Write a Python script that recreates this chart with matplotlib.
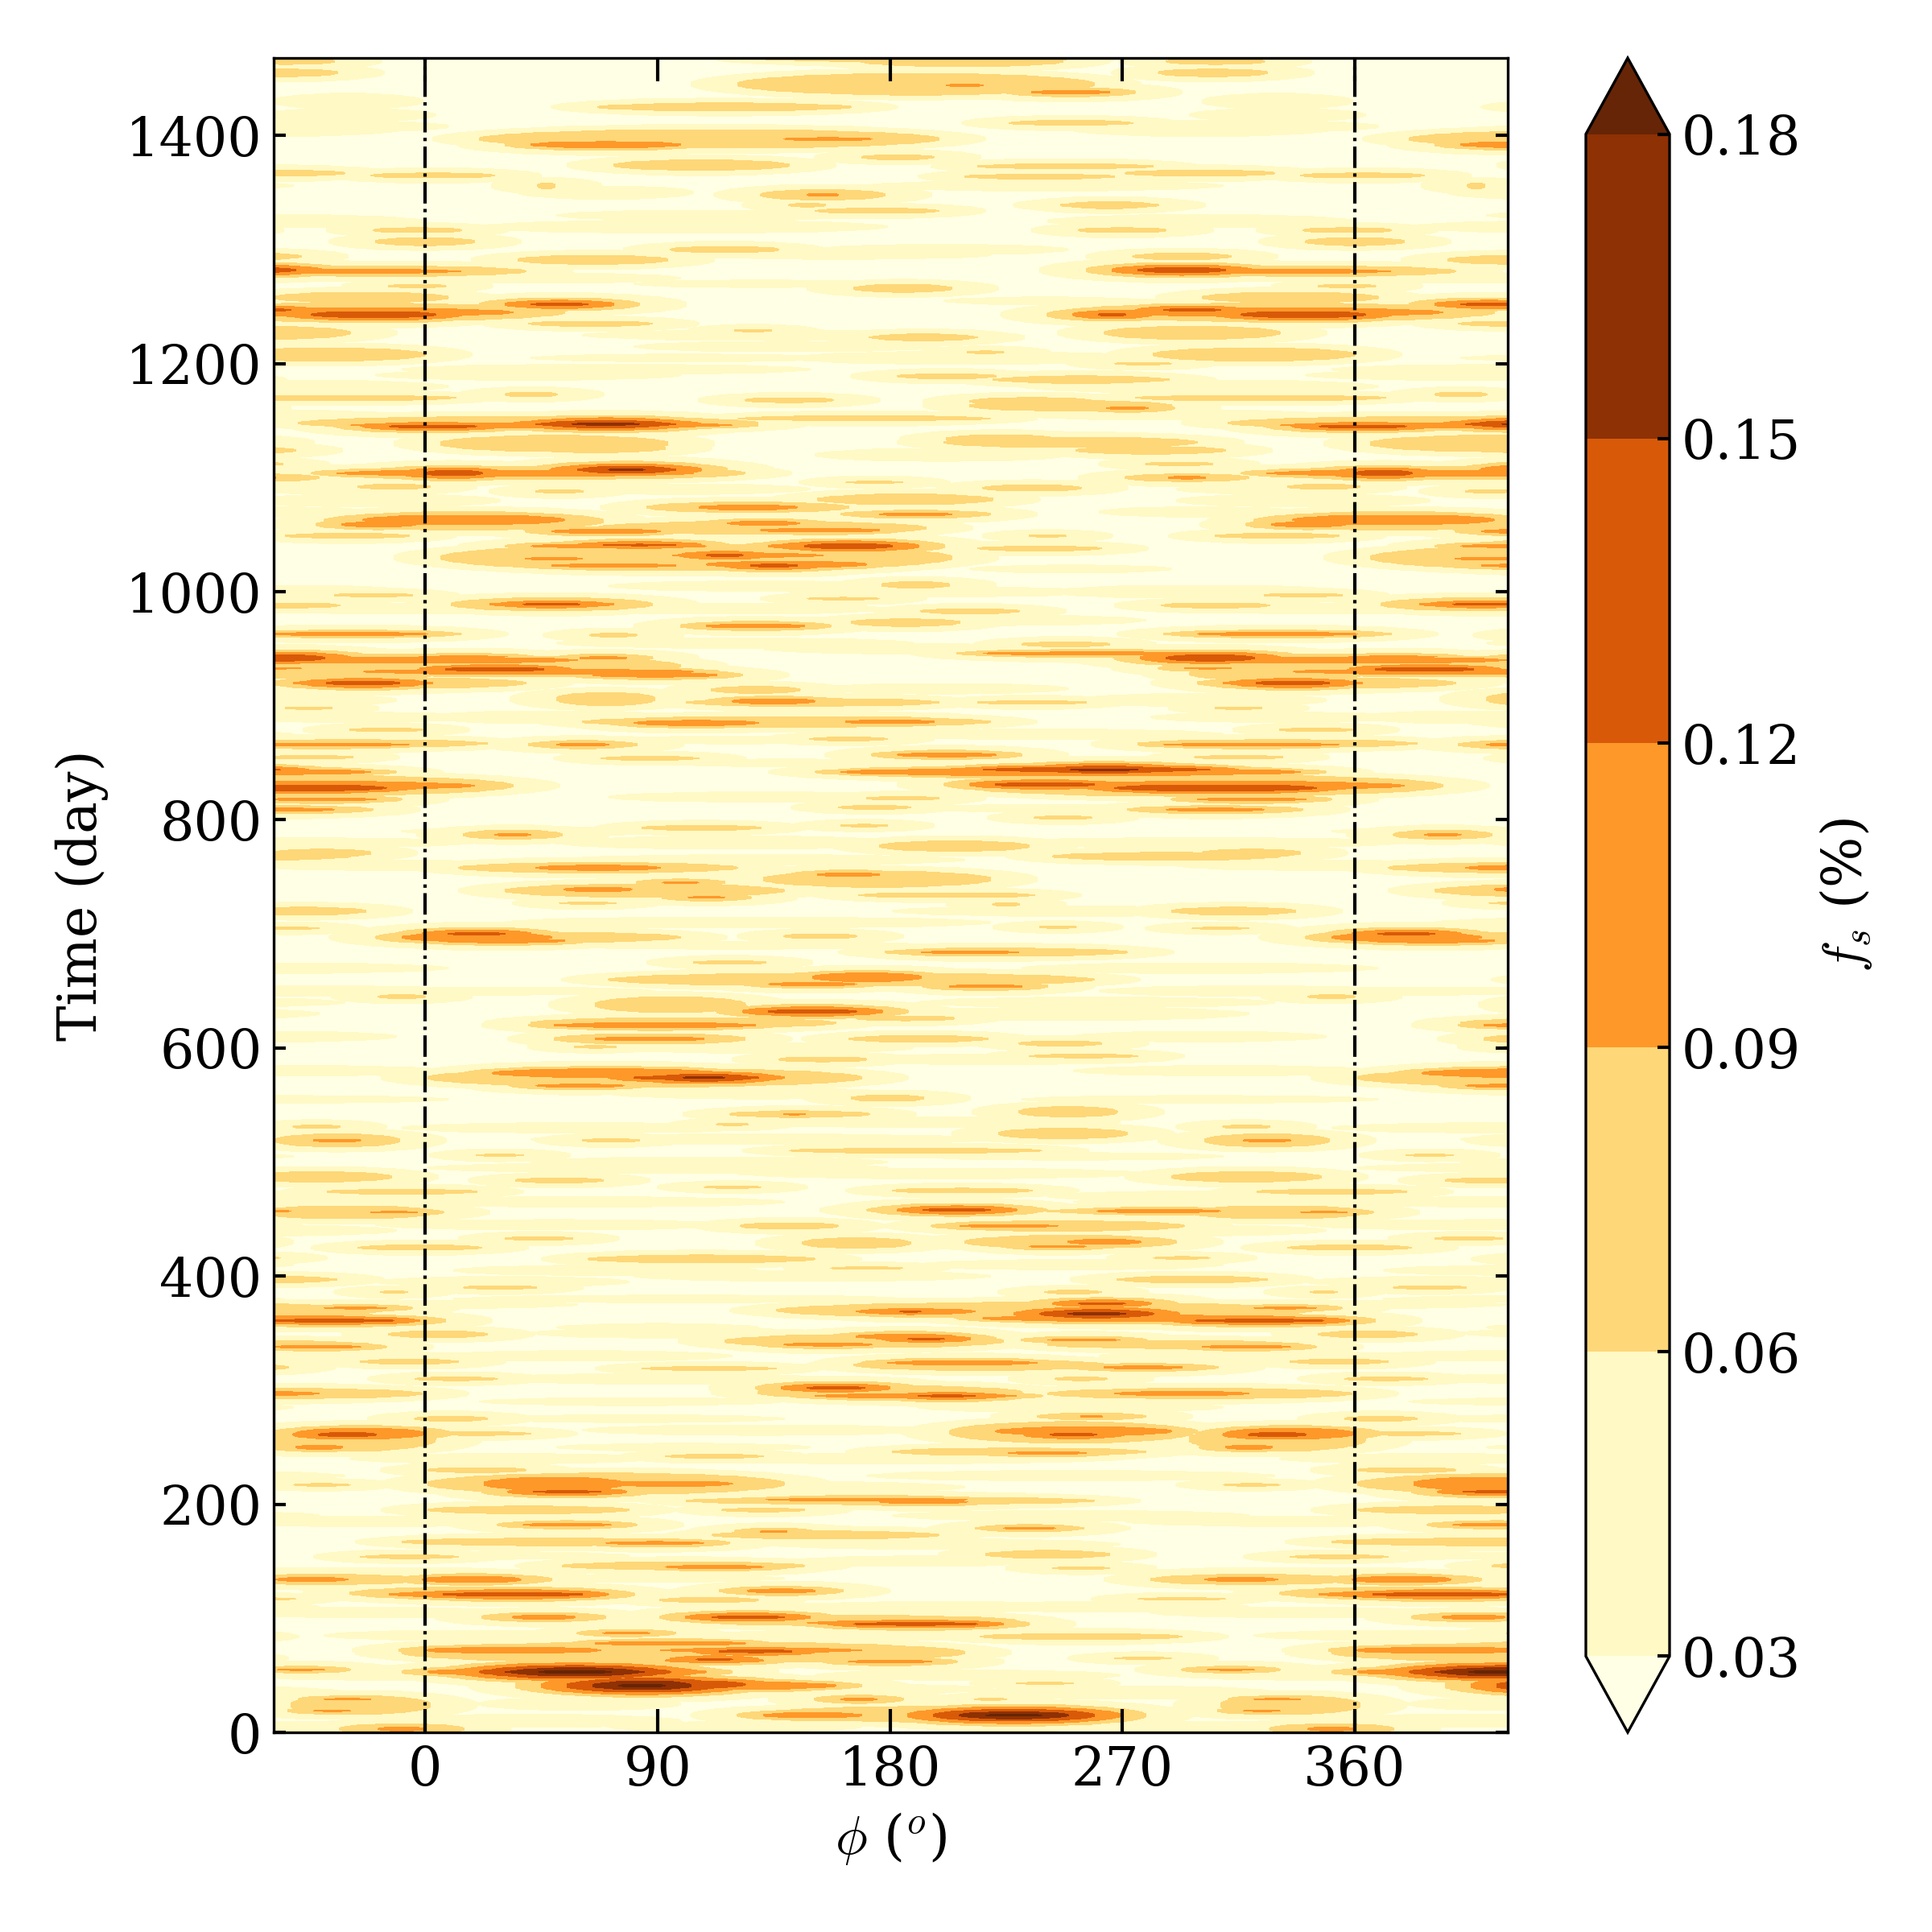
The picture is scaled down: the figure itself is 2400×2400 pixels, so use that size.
import numpy as np
import matplotlib
matplotlib.use("Agg")
import matplotlib.pyplot as plt

plt.rcParams['font.family'] = 'DejaVu Serif'
plt.rcParams['mathtext.fontset'] = 'cm'

# Features: (time, phi, half-width in phi, half-height in time, peak value)
features_upper = [
(1465,208,30,2.5,.09),(1465,306,20,2.5,.07),(1467,190,60,2,.065),(1445,190,70,8,.075),(1438,250,16,2,.095),(1444,209,8,1.5,.095),
(1455,305,22,3,.07),(1425,116,50,3,.065),(1411,250,25,2,.065),(1392,70,30,3,.1),(1397,156,18,1.5,.095),(1397,110,90,7,.07),
(1374,107,35,4,.075),(1374,107,8,1,.09),(1381,183,15,2,.065),(1373,248,35,2,.065),(1367,300,30,2.5,.065),(1364,238,30,2,.065),
(1365,3,25,2,.065),(1348,154,25,4,.07),(1348,154,7,1.5,.095),(1356,47,4,2.5,.065),(1339,265,20,2,.07),(1339,265,7,1,.09),(1334,175,25,2,.065),
(1339,148,8,1.5,.065),(1317,270,18,2,.065),(1317,-3,18,2,.065),(1307,0,20,3,.07),(1307,0,7,.7,.09),(1300,116,22,2.5,.065),(1291,65,30,3.5,.07),
(1294,293,20,2.5,.065),(1282,293,18,2.5,.125),(1281,345,55,4,.07),(1281,325,50,2,.1),(1266,185,20,3,.065),(1268,-3,12,1.5,.065),
(1252,52,12,1.5,.13),(1252,52,25,3,.07),(1243,340,25,3,.135),(1245,330,65,4,.11),(1247,297,12,1.5,.125),(1243,266,6,1.5,.125),(1258,335,35,4,.07),
(1245,330,85,7,.07),(1235,64,25,2,.065),(1227,297,35,5,.075),(1227,297,7,1,.09),(1223,193,22,2,.07),(1223,193,10,1,.09),(1229,127,8,1,.065),
(1208,321,40,5,.075),(1206,321,4,.7,.09),(1210,217,8,1,.065),(1200,278,12,1,.065),(1186,254,35,2.5,.07),(1186,254,20,1.3,.09),(1189,202,20,2,.07),
(1167,235,25,3,.07),(1167,235,11,1,.09),(1161,272,9,1.5,.095),(1163,250,40,4,.07),(1170,309,35,2,.065),(1168,141,18,2,.065),(1173,41,11,2,.065),
(1170,333,40,2,.065),(1147,70,14,1.2,.16),(1147,70,28,2,.13),(1145,3,18,1.5,.125),(1146,45,75,2.5,.105),(1148,40,90,5,.07),(1152,170,50,2,.065),
(1132,37,11,1.5,.09),(1126,66,18,2,.09),(1130,50,45,6,.07),(1134,223,12,1.5,.09),(1131,250,50,4,.07),(1124,281,30,3,.065),
(1104,11,12,2.5,.14),(1107,78,8,1,.155),(1107,78,20,2.5,.135),(1104,35,70,3,.105),(1104,40,85,5,.07),(1112,292,14,1.5,.065),(1100,295,8,1.5,.095),
(1100,295,25,3,.07),(1092,-12,15,2,.065),(1088,52,10,1.5,.065),(1091,235,20,2.5,.065),(1096,174,12,1,.065),(1081,186,35,4,.07),
(1074,125,20,2.5,.095),(1074,125,40,4,.07),(1068,190,15,1.5,.095),(1068,190,30,3,.07),(1063,15,40,4.5,.11),(1062,15,55,7,.07),(1059,342,15,2.5,.11),
(1060,131,15,2,.095),(1054,153,24,2,.1),(1053,70,22,2,.095),(1056,130,65,5,.07),(1041,83,15,1,.125),(1040,75,35,2,.1),(1040,164,18,2.5,.13),
(1040,160,28,3,.105),(1032,116,8,1.5,.125),(1032,125,30,2,.1),(1029,50,12,1.5,.095),(1023,135,10,1.5,.125),(1024,140,32,3,.105),(1023,73,25,2,.095),
(1030,105,100,10,.07),(1038,238,25,2,.065),(1049,241,8,1,.065),(1049,330,25,2,.065),(1006,190,14,2.5,.07),(989,49,12,1,.13),(989,49,25,2.5,.105),
(989,49,40,5,.07),(997,340,16,1.5,.065),(994,162,15,1,.065),(983,211,20,2,.065),(988,306,22,2,.065),
]

features_middle = [
(970,128,20,2,.095),(970,128,30,3,.07),(973,186,22,3,.065),(963,330,32,1.5,.105),(963,330,45,3,.07),(962,73,10,1.5,.065),(954,248,18,2,.065),
(946,260,45,1.5,.1),(942,304,18,3,.14),(940,350,70,3,.105),(943,15,18,1,.095),(942,69,10,1.2,.1),(932,27,20,2,.135),(927,89,25,2,.115),
(930,40,65,2.5,.105),(935,30,70,7,.07),(933,303,10,1,.095),(928,330,35,5,.07),(920,336,15,2,.135),(920,336,28,2.5,.105),(920,350,50,4,.07),
(914,128,8,1,.09),(904,135,17,2.5,.1),(903,150,50,3,.07),(906,70,20,5,.07),(903,235,22,1.5,.065),(898,315,10,1,.065),(885,105,25,2.5,.105),
(886,180,18,2,.1),(886,140,80,4,.07),(879,345,15,1.5,.065),(871,164,16,1.5,.065),(866,61,11,1.5,.095),(866,61,22,3,.07),(866,320,35,1.5,.105),
(867,330,55,3,.07),(857,202,20,2,.1),(854,87,20,1.5,.065),(855,315,18,1.5,.065),(844,263,14,1,.16),(844,260,45,2,.135),(842,250,90,3.5,.105),
(831,240,20,2,.135),(828,306,40,3,.14),(830,310,70,4,.105),(830,300,95,8,.07),(818,320,22,1.5,.105),(809,306,20,1.5,.105),(809,306,35,3,.07),
(819,185,15,1.5,.065),(811,174,15,1.5,.065),(802,247,12,1.5,.065),(793,107,24,2,.065),(795,170,10,1,.065),(787,34,8,1.5,.095),(787,34,20,3.5,.07),
(777,205,30,4,.065),(768,287,45,3,.065),(771,320,20,3,.065),(758,67,25,2.5,.105),(758,67,55,4,.07),(752,164,13,2,.095),(748,175,45,6,.07),
(739,67,14,2,.1),(745,99,8,1,.095),(732,109,8,1,.095),(738,85,55,5,.07),(734,202,35,2,.065),(726,225,6,1.5,.065),(727,63,12,1,.065),(720,313,25,3,.065),
(706,245,8,1,.065),(705,308,12,1,.065),(700,20,12,1.5,.125),(694,30,25,2,.105),(697,20,30,4,.1),(697,40,60,4,.07),(698,153,15,2,.065),
(684,211,20,1.5,.095),(684,225,48,3,.07),(675,118,15,1.5,.065),(662,171,22,4,.105),(656,150,18,1.5,.105),(654,217,15,1.5,.095),(660,165,95,5,.07),
(645,-9,10,1.5,.065),(632,150,18,2,.135),(632,150,28,3,.105),(638,95,30,6,.07),(626,186,20,2,.065),(620,89,40,2.5,.105),(622,100,60,4,.07),
(608,87,22,2,.105),(608,87,38,4,.07),(608,191,28,2.5,.065),(604,246,17,2,.065),(593,255,22,1.5,.065),(590,154,18,2,.065),(601,66,9,1,.065),
(574,108,9,1,.165),(574,105,25,2,.135),(578,70,45,4,.105),(567,60,18,1.5,.1),(574,85,85,7,.07),(556,179,15,2.5,.065),(544,249,20,4,.065),
(542,143,5,1,.095),(542,145,28,2.5,.07),(525,247,26,4,.07),(519,326,10,1.5,.095),(519,326,25,5,.07),(519,72,12,1.5,.065),(510,190,50,2,.065),
(506,29,10,1,.065),(533,119,7,1,.065),(531,318,10,1.5,.065),(487,318,30,4,.065),
]

features_lower = [
(484,52,18,2,.065),(475,208,28,2,.065),(478,119,12,1,.065),(474,-9,30,2,.065),(456,348,10,1,.095),(456,330,35,5,.07),(458,206,14,1.5,.13),
(458,206,24,2.5,.1),(458,206,36,3.5,.07),(457,284,25,1.5,.105),(457,290,50,2.5,.07),(444,141,20,2.5,.07),(444,226,20,1.5,.105),(444,245,50,4,.07),
(430,263,15,2.5,.105),(426,245,12,1,.1),(430,250,42,5,.07),(433,44,14,1.5,.065),(425,-2,25,2,.065),(429,167,22,4,.065),(415,107,45,3,.07),
(407,171,15,1,.065),(416,293,12,1,.065),(397,297,30,2.5,.065),(390,29,15,1.5,.065),(386,251,12,1.5,.065),(386,-12,6,1,.065),
(367,260,12,1.5,.165),(367,260,23,2.5,.135),(376,262,10,1,.135),(376,262,20,1.5,.105),(369,190,24,2.5,.105),(369,188,5,.8,.125),(361,323,26,1.5,.125),
(363,280,65,3,.105),(372,333,13,1,.1),(370,240,105,6,.07),(347,186,20,2.5,.1),(345,194,8,1,.125),(340,156,18,1.5,.105),(343,170,55,5,.07),
(344,255,15,1,.095),(338,318,18,1.5,.105),(340,290,50,3,.07),(349,5,20,2.5,.07),(324,208,30,2,.105),(322,215,50,4,.07),(320,278,16,1.5,.1),
(320,278,30,3,.07),(319,110,27,1.5,.065),(325,-6,20,2,.065),(310,254,11,1.5,.065),(310,12,17,1.5,.065),(302,159,12,1.5,.14),(303,160,20,2.5,.105),
(295,202,12,1,.13),(295,190,40,2,.105),(298,180,52,5,.07),(297,293,27,2,.105),(297,300,60,4,.07),(277,258,5,1,.095),(277,258,22,2.5,.07),
(261,251,10,1.5,.125),(264,255,35,4,.105),(263,250,48,8,.07),(261,330,12,2,.135),(262,335,26,5,.11),(250,319,10,2,.1),(257,330,35,9,.075),
(262,20,22,1.5,.065),(275,10,15,2,.065),(245,241,16,1.5,.1),(246,230,50,3,.07),(242,112,20,1.5,.065),(218,50,28,6,.105),(218,95,25,2.5,.105),
(211,55,14,1.2,.13),(218,70,70,8,.075),(230,20,20,2,.065),(217,320,12,1,.065),(204,171,40,1.5,.105),(202,193,18,1.5,.105),(203,180,80,3,.07),
(195,131,17,1.5,.07),(195,40,40,3,.065),(182,55,18,1.5,.105),(182,55,28,3,.07),(176,135,6,1,.095),(173,155,45,3,.07),(179,234,11,1,.095),
(179,234,22,1.5,.07),(166,89,20,1.5,.105),(167,50,60,3,.07),(156,241,25,3,.07),(154,-6,20,1.5,.065),(145,112,20,1.5,.105),(146,100,48,3,.07),
(144,254,12,1.2,.065),(134,18,20,3,.105),(134,20,30,4,.07),(134,316,15,2,.105),(134,320,40,4,.07),(124,138,14,2,.1),(124,138,25,3,.07),
(121,34,28,2,.125),(121,25,40,3,.1),(122,25,55,5,.07),(116,110,20,2,.065),(117,293,18,1,.065),(101,46,13,2,.1),(101,46,25,3.5,.07),
(101,125,15,1.5,.125),(101,125,25,2.5,.1),(95,190,25,1.3,.13),(96,185,38,2,.105),(98,165,65,4,.07),(87,78,10,1,.1),(84,254,40,2.5,.065),
(72,34,35,3,.105),(78,95,30,2,.105),(71,128,15,1.5,.125),(72,130,40,2,.105),(64,112,8,1,.125),(63,112,20,2,.105),(62,180,17,1.5,.1),(70,100,110,8,.07),
(65,278,12,1,.065),(55,312,10,1,.095),(53,58,15,1.5,.185),(53,58,28,2,.165),(53,55,35,3,.14),(53,55,55,4,.105),(41,84,10,1.5,.185),(42,85,17,3.5,.165),
(42,90,35,4,.14),(41,105,55,4,.105),(29,168,8,1.5,.095),(29,219,7,1,.065),(43,240,12,1,.065),(15,228,12,1,.185),(15,228,24,2,.14),(16,232,32,3,.105),
(15,150,20,2.5,.105),(16,200,70,6,.07),(29,330,10,1,.095),(19,324,8,1,.095),(24,335,28,7,.065),(3,351,10,2,.1),(3,351,25,4,.07),
]

# Pale bands (0.03 - 0.06): (time, phi, half-width in phi, half-height in time, peak value)
features_pale = [
(1430,330,30,6,.04),(1408,310,60,5,.04),(1356,240,70,4,.04),(1320,100,80,5,.04),(1295,160,60,3,.04),
(1215,140,60,4,.04),(1195,70,80,4,.04),(1180,300,70,5,.04),(1090,330,40,4,.04),(1000,200,60,4,.04),(985,120,60,4,.04),
(890,330,50,4,.04),(780,120,70,5,.04),(710,100,70,4,.04),(640,260,70,4,.04),(530,60,70,4,.04),(500,110,70,4,.04),
(470,300,60,4,.04),(405,70,60,4,.04),(355,90,40,3,.04),(290,80,60,3,.04),(250,100,50,3,.04),(150,190,50,4,.04),(110,260,60,4,.04),(35,270,60,5,.04),(25,60,40,5,.04),
(1418,330,35,5,.04),(1405,300,50,5,.04),(1350,70,35,5,.04),(1330,110,60,4,.04),(1325,300,60,5,.04),(1300,200,50,4,.04),(1275,40,60,4,.04),(1270,130,50,3,.04),
(1255,240,40,3,.04),(1225,130,70,4,.04),(1205,210,70,5,.04),(1205,100,60,3,.04),(1190,40,60,4,.04),(1155,290,60,4,.04),(1120,200,50,5,.04),(1090,100,50,4,.04),
(1080,340,50,5,.04),(1070,300,40,4,.04),(1020,250,40,3,.04),(1005,130,60,4,.04),(1000,300,60,5,.04),(975,220,60,4,.04),(985,350,50,4,.04),(955,120,70,4,.04),
(950,190,60,4,.04),(915,200,50,4,.04),(905,300,50,5,.04),(890,50,50,5,.04),(875,240,70,4,.04),(870,120,50,3,.04),(850,140,50,3,.04),(820,130,60,4,.04),
(810,240,50,3,.04),(790,50,60,3,.04),(780,300,80,4,.04),(765,130,80,4,.04),(760,350,60,4,.04),(720,250,70,4,.04),(710,140,80,4,.04),(690,120,80,3,.04),
(670,300,70,4,.04),(650,30,60,3,.04),(650,320,60,4,.04),(630,250,70,5,.04),(610,300,50,4,.04),(600,130,60,4,.04),(590,220,70,4,.04),(580,310,60,4,.04),
(560,130,60,4,.04),(555,300,70,3,.04),(535,190,80,4,.04),(520,130,90,4,.04),(505,250,60,3,.04),(495,90,90,4,.04),(490,200,80,4,.04),(465,60,80,4,.04),
(465,310,60,3,.04),(445,50,70,4,.04),(440,300,50,4,.04),(410,250,60,4,.04),(400,150,70,4,.04),(395,30,50,4,.04),(380,100,90,3,.04),(375,0,60,3,.04),
(350,100,60,4,.04),(330,60,60,4,.04),(330,320,60,4,.04),(310,90,70,4,.04),(285,250,60,4,.04),(275,80,60,3,.04),(265,130,70,4,.04),(240,180,90,4,.04),
(240,30,60,4,.04),(225,250,80,4,.04),(215,150,60,4,.04),(190,250,70,4,.04),(185,340,70,4,.04),(165,200,70,4,.04),(155,20,60,3,.04),(140,340,70,4,.04),
(135,80,60,3,.04),(110,200,70,4,.04),(105,340,60,4,.04),(85,170,70,4,.04),(85,20,60,4,.04),(50,210,60,4,.04),(50,350,60,4,.04),(38,160,60,4,.04),
(10,40,60,5,.04),(5,120,50,4,.04),(5,300,60,4,.04),
]

levels = [0.03, 0.06, 0.09, 0.12, 0.15, 0.18]
phi_ticks = [0, 90, 180, 270, 360]
time_ticks = [0, 200, 400, 600, 800, 1000, 1200, 1400]
base_value = 0.024

phi_cycle = np.arange(0.0, 360.0, 1.0)
time_axis = np.arange(0.0, 1469.0, 0.5)
field = np.full((time_axis.size, phi_cycle.size), base_value)


def stamp(t0, p0, hw, ht, low, high):
    """Raise the field to between low and high inside one ellipse."""
    i0 = np.searchsorted(time_axis, t0 - ht)
    i1 = np.searchsorted(time_axis, t0 + ht)
    dt = (time_axis[i0:i1, None] - t0) / ht
    dp = ((phi_cycle[None, :] - p0 + 180) % 360 - 180) / hw
    r2 = dt ** 2 + dp ** 2
    field[i0:i1] = np.maximum(field[i0:i1], np.where(r2 < 1, low + (high - low) * (1 - r2), base_value))


for t0, p0, hw, ht, peak in features_upper + features_middle + features_lower + features_pale:
    edge = np.floor(peak / 0.03 + 1e-9) * 0.03
    if peak < 0.09:
        ht = ht * 1.2
    stamp(t0, p0, hw, ht, edge, peak)
    wide_phi, wide_time = hw, ht
    for low in np.arange(edge - 0.03, 0.029, -0.03):
        if low > 0.04:
            wide_phi += 10
            wide_time += 2.2
        else:
            wide_phi += 18
            wide_time += 4.5
        stamp(t0, p0, wide_phi, wide_time, low, low + 0.028)

# repeat one period over the plotted phi range
phi_axis = np.arange(-59.0, 420.0, 1.0)
z = field[:, ((phi_axis % 360).astype(int))]

fig = plt.figure(figsize=(8, 8), dpi=300)
ax = fig.add_axes([340 / 2400, 248 / 2400, 1533 / 2400, 2080 / 2400])
cs = ax.contourf(phi_axis, time_axis, z, levels=levels, cmap='YlOrBr', extend='both')
for x in (0, 360):
    ax.axvline(x, color='k', ls='-.', lw=1)
ax.set_xlim(-58.6, 419.2)
ax.set_ylim(0, 1468)
ax.set_xticks(phi_ticks)
ax.set_yticks(time_ticks)
ax.tick_params(axis='x', direction='in', length=7, width=1, top=True, labelsize=16)
ax.tick_params(axis='y', direction='in', length=3.5, width=1, right=True, labelsize=16)
ax.set_xlabel(r'$\phi$ ($^o$)', fontsize=16, labelpad=4)
ax.set_ylabel('Time (day)', fontsize=16, labelpad=5)

cax = fig.add_axes([1970 / 2400, 248 / 2400, 104 / 2400, 2080 / 2400])
cb = fig.colorbar(cs, cax=cax, ticks=levels)
cb.ax.set_yticklabels(['%.2f' % v for v in levels])
cb.ax.tick_params(direction='in', length=3.5, width=1, labelsize=16)
cb.set_label(r'$f_s$ (%)', fontsize=16, labelpad=5)
fig.savefig('out.png', dpi=300)
